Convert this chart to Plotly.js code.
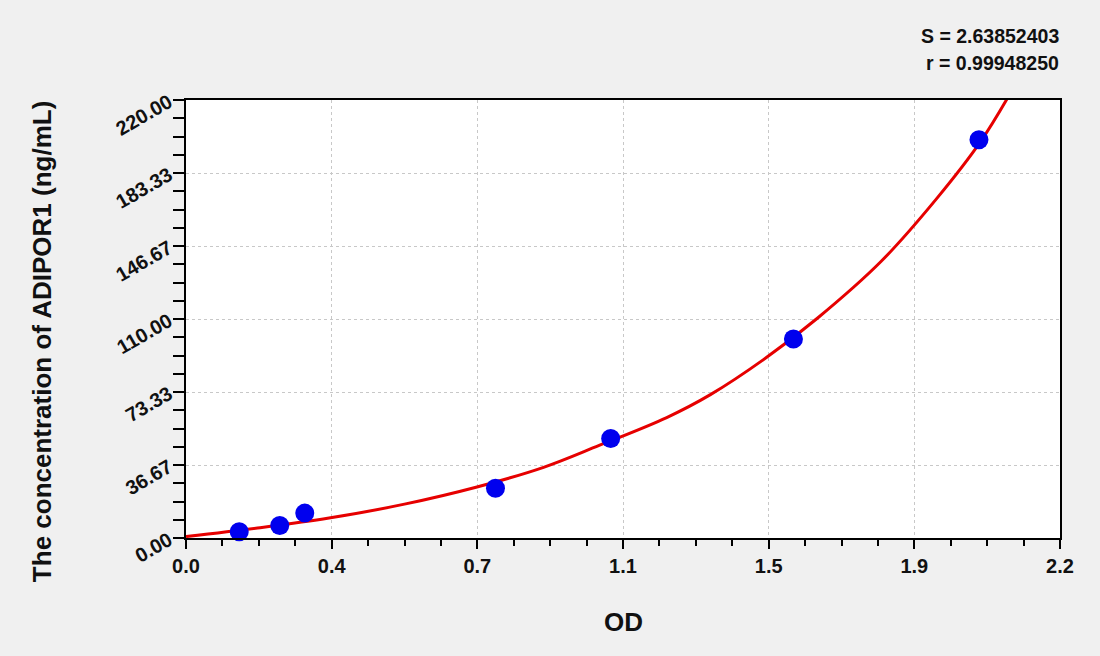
<!DOCTYPE html>
<html>
<head>
<meta charset="utf-8">
<script src="https://cdn.plot.ly/plotly-3.0.1.min.js"></script>
<style>
  html, body { margin: 0; padding: 0; background: #f0f0f0; }
  #chart { width: 1100px; height: 656px; }
</style>
</head>
<body>
<div id="chart"></div>
<script>
// standard points (OD vs concentration)
var odValues = [0.134, 0.236, 0.299, 0.779, 1.069, 1.529, 1.996];
var concValues = [3.125, 6.25, 12.5, 25, 50, 100, 200];

// fitted curve
var curveOD = [0, 0.18, 0.36, 0.55, 0.73, 0.90, 1.04, 1.21, 1.32, 1.46, 1.59, 1.75, 1.89, 2.00, 2.07];
var curveConc = [0.7, 5.0, 10.0, 17.0, 25.5, 35.5, 46.5, 60.5, 72.0, 90.5, 110.5, 139.0, 170.6, 199.1, 221.7];

// axis ticks as printed on the chart
var xTickVals = [0, 2.2 / 6, 4.4 / 6, 1.1, 8.8 / 6, 11 / 6, 2.2];
var xTickText = ['0.0', '0.4', '0.7', '1.1', '1.5', '1.9', '2.2'];
var yTickVals = [0, 220 / 6, 440 / 6, 110, 880 / 6, 1100 / 6, 220];
var yTickText = ['0.00', '36.67', '73.33', '110.00', '146.67', '183.33', '220.00'];

var statLines = ['S = 2.63852403', 'r = 0.99948250'];

var boldFont = {family: 'Liberation Sans, Arial, sans-serif', color: '#111', weight: 'bold'};
function font(size) {
    return Object.assign({size: size}, boldFont);
}

var curve = {
    x: curveOD,
    y: curveConc,
    mode: 'lines',
    type: 'scatter',
    line: {color: '#e60000', width: 3, shape: 'spline', smoothing: 1},
    hoverinfo: 'skip'
};

var points = {
    x: odValues,
    y: concValues,
    mode: 'markers',
    type: 'scatter',
    marker: {color: '#0000ee', size: 19},
    cliponaxis: false
};

var axisCommon = {
    tickmode: 'array',
    ticks: 'outside',
    tickwidth: 2,
    tickcolor: '#000',
    showline: true,
    linecolor: '#000',
    linewidth: 2,
    mirror: true,
    showgrid: true,
    gridcolor: '#c8c8c8',
    griddash: 'dot',
    gridwidth: 1,
    zeroline: false,
    tickfont: font(20),
    automargin: false
};

var layout = {
    width: 1100,
    height: 656,
    paper_bgcolor: '#f0f0f0',
    plot_bgcolor: '#ffffff',
    showlegend: false,
    margin: {l: 186, r: 40, t: 100, b: 118},
    xaxis: Object.assign({}, axisCommon, {
        range: [0, 2.2],
        tickvals: xTickVals,
        ticktext: xTickText,
        ticklen: 9,
        minor: {dtick: 2.2 / 24, tick0: 0, ticks: 'outside', ticklen: 6, tickwidth: 2, tickcolor: '#000', showgrid: false}
    }),
    yaxis: Object.assign({}, axisCommon, {
        range: [0, 220],
        tickvals: yTickVals,
        ticktext: yTickText,
        tickangle: -30,
        ticklen: 11,
        minor: {dtick: 220 / 24, tick0: 0, ticks: 'outside', ticklen: 11, tickwidth: 2, tickcolor: '#000', showgrid: false}
    }),
    annotations: statLines.map(function (t, i) {
        return {
            text: t,
            xref: 'paper', yref: 'paper',
            x: 1.001, y: 1.146 - i * 0.062,
            xanchor: 'right', yanchor: 'middle',
            showarrow: false,
            font: font(19.5)
        };
    }).concat([
        {
            text: 'OD',
            xref: 'paper', yref: 'paper',
            x: 0.5, y: -0.192,
            xanchor: 'center', yanchor: 'middle',
            showarrow: false,
            font: font(26)
        },
        {
            text: 'The concentration of ADIPOR1 (ng/mL)',
            xref: 'paper', yref: 'paper',
            x: -0.1646, y: 0.4475,
            xanchor: 'center', yanchor: 'middle',
            textangle: -90,
            showarrow: false,
            font: font(26)
        }
    ])
};

Plotly.newPlot('chart', [curve, points], layout, {displayModeBar: false, staticPlot: true});
</script>
</body>
</html>
